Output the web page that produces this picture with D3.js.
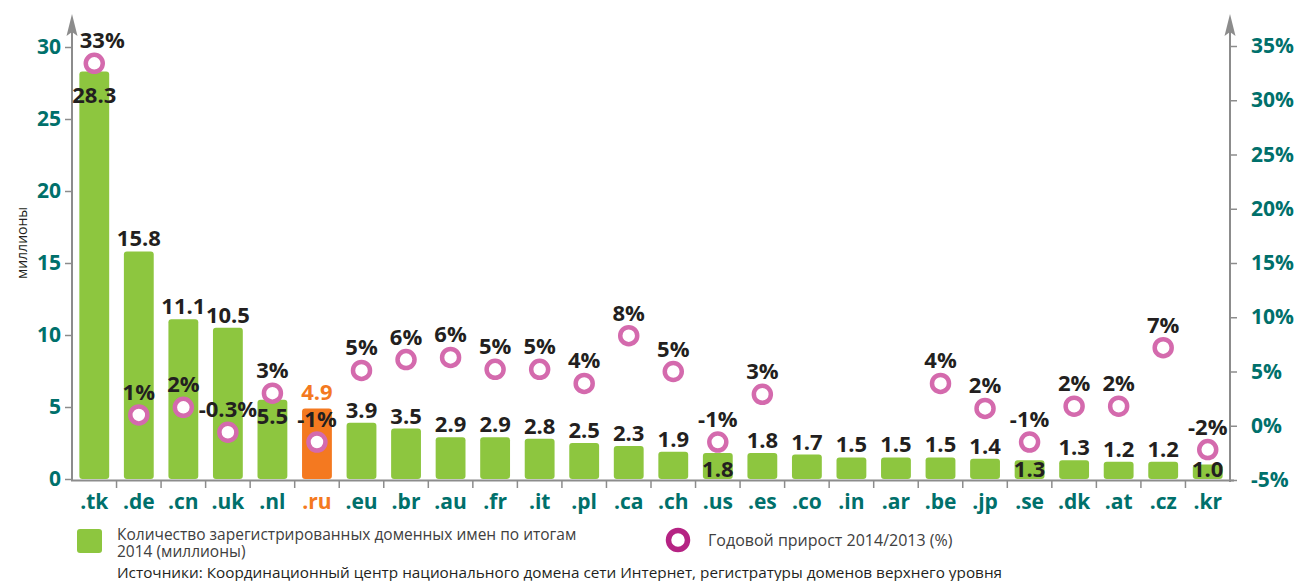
<!DOCTYPE html>
<html><head><meta charset="utf-8">
<script src="https://cdn.jsdelivr.net/npm/d3@7"></script>
<style>
body{margin:0;background:#fff;}
svg{display:block;}
</style></head><body>
<svg id="c" width="1300" height="581"></svg>
<script>
const categories = [".tk",".de",".cn",".uk",".nl",".ru",".eu",".br",".au",".fr",".it",".pl",".ca",".ch",".us",".es",".co",".in",".ar",".be",".jp",".se",".dk",".at",".cz",".kr"];
const domains = [28.3,15.8,11.1,10.5,5.5,4.9,3.9,3.5,2.9,2.9,2.8,2.5,2.3,1.9,1.8,1.8,1.7,1.5,1.5,1.5,1.4,1.3,1.3,1.2,1.2,1.0];
const domainLabels = ["28.3","15.8","11.1","10.5","5.5","4.9","3.9","3.5","2.9","2.9","2.8","2.5","2.3","1.9","1.8","1.8","1.7","1.5","1.5","1.5","1.4","1.3","1.3","1.2","1.2","1.0"];
const growth = [33.4,1.0,1.7,-0.6,3.0,-1.5,5.1,6.1,6.3,5.2,5.2,3.9,8.3,5.0,-1.5,2.9,null,null,null,3.9,1.6,-1.5,1.8,1.8,7.2,-2.2];
const growthLabels = ["33%","1%","2%","-0.3%","3%","-1%","5%","6%","6%","5%","5%","4%","8%","5%","-1%","3%","","","","4%","2%","-1%","2%","2%","7%","-2%"];
const leftTicks = [0,5,10,15,20,25,30];
const rightTicks = [-5,0,5,10,15,20,25,30,35];
const highlight = ".ru";

const teal = "#00706b", green = "#8dc63f", orange = "#f47920", pink = "#d46aad", dark = "#231f20", grey = "#8c8c8c";
const F = "'Open Sans', sans-serif";

const svg = d3.select("#c");
const x = d3.scaleBand().domain(categories).range([72,1230]).paddingInner(0.33).paddingOuter(0.165);
const y = d3.scaleLinear().domain([0,30]).range([479,47]);
const y2 = d3.scaleLinear().domain([-5,35]).range([480,46]);

// bars
svg.append("g").selectAll("rect").data(categories).join("rect")
  .attr("x", d=>x(d)).attr("width", x.bandwidth())
  .attr("y", (d,i)=>y(domains[i])).attr("height", (d,i)=>y(0)-y(domains[i]))
  .attr("rx",3).attr("fill", d=> d===highlight?orange:green);

function arrowUp(cx, tipY){
  svg.append("path")
    .attr("d", `M${cx},${tipY} L${cx+5.5},${tipY+22} L${cx},${tipY+18} L${cx-5.5},${tipY+22} Z`)
    .attr("fill", grey);
}

const leftAxis = d3.axisLeft(y).tickValues(leftTicks).tickSize(7).tickPadding(4);
const gl = svg.append("g").attr("transform","translate(72,0)").call(leftAxis);
gl.select(".domain").remove();
gl.selectAll(".tick line").attr("stroke",grey).attr("stroke-width",1.5);
gl.selectAll(".tick text").attr("fill",teal).attr("font-family",F).attr("font-weight",700).attr("font-size",21);
svg.append("line").attr("x1",72).attr("x2",72).attr("y1",481).attr("y2",30).attr("stroke",grey).attr("stroke-width",2);
arrowUp(72, 14);

const rightAxis = d3.axisRight(y2).tickValues(rightTicks).tickSize(7).tickPadding(14).tickFormat(d=>d+"%");
const gr = svg.append("g").attr("transform","translate(1230,0)").call(rightAxis);
gr.select(".domain").remove();
gr.selectAll(".tick line").attr("stroke",grey).attr("stroke-width",1.5);
gr.selectAll(".tick text").attr("fill",teal).attr("font-family",F).attr("font-weight",700).attr("font-size",21);
svg.append("line").attr("x1",1230).attr("x2",1230).attr("y1",482).attr("y2",30).attr("stroke",grey).attr("stroke-width",2);
arrowUp(1230, 14);

// bottom axis
svg.append("line").attr("x1",71).attr("x2",1234).attr("y1",480.5).attr("y2",480.5).attr("stroke",grey).attr("stroke-width",2);
const bounds = d3.range(1, categories.length).map(i=>x.range()[0] + i*x.step());
svg.append("g").selectAll("line").data(bounds).join("line")
  .attr("x1",d=>d).attr("x2",d=>d).attr("y1",481).attr("y2",488).attr("stroke",grey).attr("stroke-width",1.5);
svg.append("g").selectAll("text").data(categories).join("text")
  .attr("x",d=>x(d)+x.bandwidth()/2).attr("y",509).attr("text-anchor","middle")
  .attr("font-family",F).attr("font-weight",700).attr("font-size",21)
  .attr("fill",d=>d===highlight?orange:teal).text(d=>d);

// bar labels
const insideTop = {".tk":24, ".nl":16};
const insideBottom = new Set([".us",".se",".kr"]);
svg.append("g").selectAll("text").data(categories).join("text")
  .attr("x",d=>x(d)+x.bandwidth()/2)
  .attr("y",(d,i)=>{
    const top = y(domains[i]);
    if (insideTop[d]!==undefined) return top + insideTop[d] + 8;
    if (insideBottom.has(d)) return y(0) - 2;
    if (d===highlight) return top - 8;
    return top - 5;
  })
  .attr("text-anchor","middle").attr("font-family",F).attr("font-weight",700).attr("font-size",22)
  .attr("fill",d=>d===highlight?orange:dark).text((d,i)=>domainLabels[i]);

// growth circles
const gi = categories.map((d,i)=>i).filter(i=>growth[i]!==null);
svg.append("g").selectAll("circle").data(gi).join("circle")
  .attr("cx",i=>x(categories[i])+x.bandwidth()/2).attr("cy",i=>y2(growth[i])).attr("r",8.5)
  .attr("fill","#fff").attr("stroke",pink).attr("stroke-width",4.5);
svg.append("g").selectAll("text").data(gi).join("text")
  .attr("x",i=>x(categories[i])+x.bandwidth()/2 + (i===0?8:0)).attr("y",i=>y2(growth[i])-15)
  .attr("text-anchor","middle").attr("font-family",F).attr("font-weight",700).attr("font-size",22)
  .attr("fill",dark).text(i=>growthLabels[i]);

// y title
svg.append("text").attr("transform","translate(27,243) rotate(-90)").attr("text-anchor","middle")
  .attr("font-family",F).attr("font-size",14).attr("fill",dark).text("миллионы");

// legend
svg.append("rect").attr("x",77).attr("y",529).attr("width",25).attr("height",24).attr("rx",3).attr("fill",green);
const lt = svg.append("text").attr("font-family",F).attr("font-size",15.5).attr("fill","#404040");
lt.append("tspan").attr("x",117).attr("y",540).text("Количество зарегистрированных доменных имен по итогам");
lt.append("tspan").attr("x",117).attr("y",557).text("2014 (миллионы)");
svg.append("circle").attr("cx",678).attr("cy",540).attr("r",9.5).attr("fill","#fff").attr("stroke","#b52383").attr("stroke-width",5.5);
svg.append("text").attr("x",708).attr("y",546).attr("font-family",F).attr("font-size",16).attr("fill","#404040").text("Годовой прирост 2014/2013 (%)");
svg.append("text").attr("x",117).attr("y",578).attr("font-family",F).attr("font-size",15.3).attr("fill",dark).text("Источники: Координационный центр национального домена сети Интернет, регистратуры доменов верхнего уровня");
</script></body></html>
